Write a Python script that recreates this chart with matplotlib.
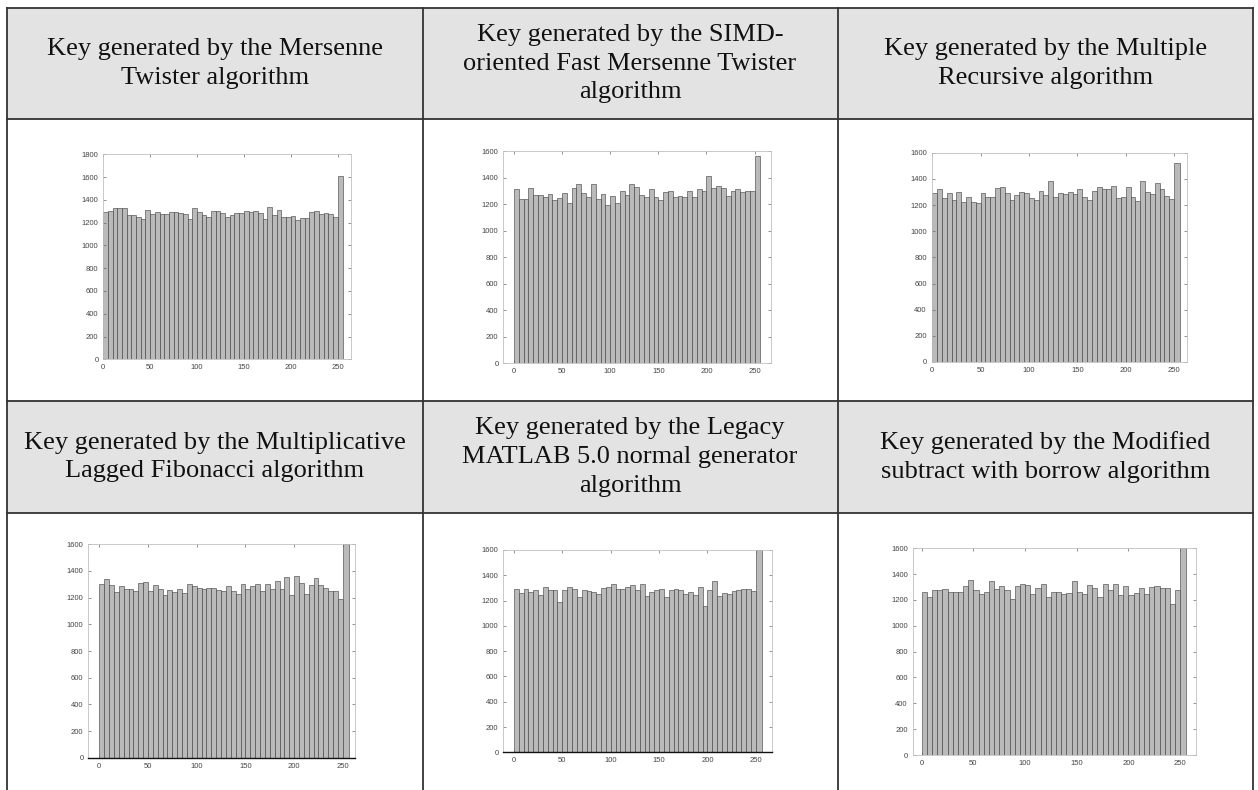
import numpy as np
import matplotlib.pyplot as plt
from matplotlib.patches import Rectangle

# histogram bins over the byte values 0..255 (last bin holds 250..255)
bin_edges = list(range(0, 255, 5)) + [256]

titles = [
    "Key generated by the Mersenne\nTwister algorithm",
    "Key generated by the SIMD-\noriented Fast Mersenne Twister\nalgorithm",
    "Key generated by the Multiple\nRecursive algorithm",
    "Key generated by the Multiplicative\nLagged Fibonacci algorithm",
    "Key generated by the Legacy\nMATLAB 5.0 normal generator\nalgorithm",
    "Key generated by the Modified\nsubtract with borrow algorithm",
]

mt_counts = [1290, 1300, 1325, 1330, 1330, 1265, 1265, 1250, 1235, 1310,
             1275, 1295, 1280, 1280, 1295, 1290, 1285, 1280, 1230, 1330,
             1290, 1265, 1250, 1305, 1300, 1285, 1250, 1270, 1285, 1285,
             1305, 1290, 1300, 1285, 1230, 1340, 1265, 1310, 1250, 1250,
             1255, 1220, 1240, 1245, 1295, 1300, 1275, 1285, 1280, 1250,
             1610]
sfmt_counts = [1310, 1240, 1235, 1320, 1265, 1265, 1255, 1275, 1230, 1245,
               1285, 1205, 1320, 1350, 1280, 1250, 1350, 1240, 1275, 1190,
               1260, 1205, 1295, 1270, 1350, 1330, 1265, 1250, 1310, 1250,
               1230, 1290, 1295, 1250, 1260, 1250, 1300, 1250, 1310, 1295,
               1415, 1320, 1335, 1320, 1260, 1300, 1310, 1290, 1300, 1295,
               1565]
mrg_counts = [1290, 1320, 1255, 1295, 1235, 1300, 1225, 1265, 1225, 1215,
              1290, 1265, 1265, 1330, 1340, 1290, 1240, 1280, 1300, 1290,
              1255, 1235, 1310, 1280, 1380, 1265, 1295, 1285, 1300, 1285,
              1320, 1265, 1235, 1310, 1340, 1320, 1320, 1345, 1255, 1265,
              1340, 1260, 1230, 1380, 1300, 1285, 1370, 1320, 1270, 1245,
              1520]
mlfg_counts = [1305, 1340, 1295, 1240, 1285, 1265, 1265, 1250, 1310, 1315,
               1250, 1295, 1265, 1220, 1255, 1240, 1265, 1235, 1300, 1285,
               1275, 1265, 1275, 1275, 1260, 1250, 1290, 1250, 1230, 1300,
               1265, 1285, 1300, 1250, 1300, 1265, 1325, 1265, 1355, 1220,
               1365, 1310, 1230, 1295, 1350, 1295, 1275, 1250, 1250, 1190,
               1600]
legacy_counts = [1295, 1260, 1290, 1265, 1285, 1245, 1305, 1280, 1285, 1190,
                 1285, 1305, 1295, 1225, 1285, 1275, 1265, 1255, 1300, 1305,
                 1335, 1295, 1290, 1305, 1325, 1285, 1335, 1235, 1265, 1285,
                 1295, 1230, 1280, 1290, 1285, 1255, 1270, 1245, 1305, 1160,
                 1285, 1355, 1235, 1260, 1255, 1275, 1285, 1295, 1290, 1275,
                 1600]
swb_counts = [1265, 1220, 1275, 1275, 1285, 1260, 1265, 1265, 1305, 1355,
              1275, 1250, 1260, 1345, 1285, 1305, 1280, 1205, 1305, 1325,
              1315, 1245, 1290, 1325, 1225, 1265, 1260, 1250, 1255, 1350,
              1265, 1250, 1315, 1295, 1220, 1325, 1280, 1325, 1235, 1305,
              1235, 1255, 1295, 1250, 1300, 1305, 1295, 1295, 1165, 1275,
              1600]
all_counts = [mt_counts, sfmt_counts, mrg_counts, mlfg_counts, legacy_counts, swb_counts]
y_tops = [1800, 1600, 1600, 1600, 1600, 1600]

W, H = 1258, 790
fig = plt.figure(figsize=(W / 100, H / 100), dpi=100)

# table background drawn in pixel coordinates
bg = fig.add_axes([0, 0, 1, 1])
bg.set_xlim(0, W)
bg.set_ylim(H, 0)
bg.axis("off")

col_x = [7, 422.5, 837.5, 1253]
row_y = [8, 119, 401, 513, H]
for top, bot in [(row_y[0], row_y[1]), (row_y[2], row_y[3])]:
    bg.add_patch(Rectangle((col_x[0], top), col_x[-1] - col_x[0], bot - top,
                           facecolor="#e3e3e3", edgecolor="none"))
for y in row_y[:4]:
    bg.plot([col_x[0], col_x[-1]], [y, y], color="#333333", lw=1.3)
for x in col_x:
    bg.plot([x, x], [row_y[0], H], color="#333333", lw=1.3)

for i, t in enumerate(titles):
    r, c = divmod(i, 3)
    cx = (col_x[c] + col_x[c + 1]) / 2
    cy = (row_y[2 * r] + row_y[2 * r + 1]) / 2
    bg.text(cx, cy, t, ha="center", va="center", family="Liberation Serif",
            fontsize=19, linespacing=1.4, color="#111111")

# axes boxes in pixels: left, top, right, bottom, and x limits
boxes = [
    (103.3, 154.3, 350.7, 359.3, (0, 264)),
    (503.3, 151.0, 771.0, 363.3, (-11, 267)),
    (931.7, 152.7, 1186.7, 362.0, (-0.5, 263)),
    (88.3, 544.3, 355.0, 757.7, (-11.3, 262.5)),
    (503.3, 550.0, 772.3, 752.3, (-11, 267)),
    (912.7, 548.3, 1195.7, 755.0, (-8.7, 265)),
]

for i, counts in enumerate(all_counts):
    l, t, r, b, xl = boxes[i]
    ax = fig.add_axes([l / W, 1 - b / H, (r - l) / W, (b - t) / H])
    ax.bar(bin_edges[:-1], counts, width=np.diff(bin_edges), align="edge",
           color="#bababa", edgecolor="#3a3a3a", linewidth=0.4)
    ax.set_xlim(*xl)
    ax.set_ylim(0, y_tops[i])
    ax.set_xticks(range(0, 251, 50))
    ax.set_yticks(range(0, y_tops[i] + 1, 200))
    ax.tick_params(direction="in", length=2, width=0.5, top=True, right=True,
                   labelsize=5.5, pad=3.5, colors="#666666", labelcolor="#444444")
    for s in ax.spines.values():
        s.set_color("#c0c0c0")
        s.set_linewidth(0.6)
    if i in (3, 4):
        ax.spines["bottom"].set_color("#111111")
        ax.spines["bottom"].set_linewidth(1.0)
    for lab in ax.get_xticklabels() + ax.get_yticklabels():
        lab.set_family("Liberation Sans")

fig.savefig("out.png", dpi=100)
